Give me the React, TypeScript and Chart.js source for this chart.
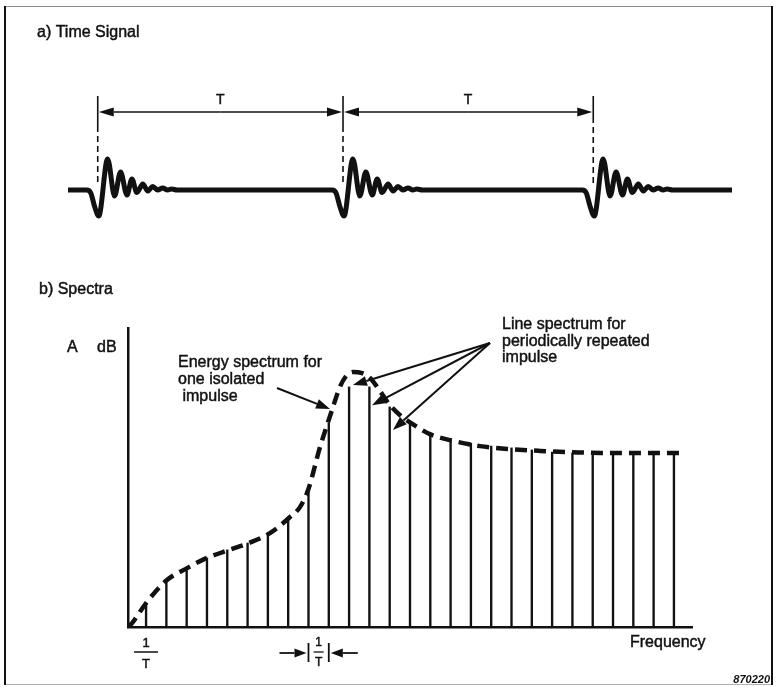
import React, { useEffect, useRef } from "react";
import { Chart, registerables } from "chart.js";

Chart.register(...registerables);

const INK = "#111111";
const FONT = '"Liberation Sans", Arial, Helvetica, sans-serif';

// ---------- (a) Time signal ----------
const impulseTimes = [0.6, 5.55, 10.6];
const periodLabels = ["T", "T"];
const timeStart = 0;
const timeEnd = 13.4;
// one impulse response: time offset from onset, amplitude
const waveOffsets = [-0.22, -0.14, -0.06, 0.02, 0.2, 0.34, 0.46, 0.59, 0.69, 0.79, 0.91, 1.01, 1.11, 1.21, 1.31, 1.41, 1.49, 1.6];
const waveAmps = [0, -3, -17, -26, 31, -6, 18, -5, 11, -2.5, 6, -1, 3.5, 0, 2, 0, 1, 0];

// ---------- (b) Spectra ----------
const harmonicNumbers = [1, 2, 3, 4, 5, 6, 7, 8, 9, 10, 11, 12, 13, 14, 15, 16, 17, 18, 19, 20, 21, 22, 23, 24, 25, 26, 27];
const lineLevels = [8.0, 15.7, 19.7, 23.1, 25.8, 28.1, 31.4, 36.8, 45.8, 68.2, 80.3, 80.3, 73.6, 68.6, 64.2, 62.5, 61.5, 60.5, 59.9, 59.2, 58.5, 58.2, 58.2, 58.2, 58.2, 58.2, 58.2];
const envelopeFreq = [0.11, 0.31, 1, 2.03, 3.02, 4.0, 5.09, 6.07, 7.1, 8.09, 8.58, 8.98, 9.57, 10.16, 10.55, 10.85, 11.19, 11.64, 12.03, 12.42, 13.01, 13.5, 14.05, 14.98, 15.97, 17.45, 18.9, 20.4, 21.9, 23.4, 25.3, 27.4];
const envelopeLevel = [0, 1.3, 8.0, 15.7, 19.7, 23.1, 25.8, 28.1, 31.4, 36.8, 40.1, 45.8, 60.2, 72.6, 80.3, 83.9, 85.3, 84.9, 83.3, 79.9, 74.2, 70.9, 68.2, 64.5, 62.5, 60.5, 59.5, 58.9, 58.5, 58.2, 58.2, 58.2];
const freqMin = 0.11;
const freqMax = 27.89;

function drawArrow(ctx: CanvasRenderingContext2D, x1: number, y1: number, x2: number, y2: number, len = 13, half = 4.5, width = 1.8) {
  const ang = Math.atan2(y2 - y1, x2 - x1);
  const bx = x2 - len * Math.cos(ang);
  const by = y2 - len * Math.sin(ang);
  ctx.lineWidth = width;
  ctx.beginPath();
  ctx.moveTo(x1, y1);
  ctx.lineTo(bx, by);
  ctx.stroke();
  ctx.beginPath();
  ctx.moveTo(x2, y2);
  ctx.lineTo(bx + half * Math.sin(ang), by - half * Math.cos(ang));
  ctx.lineTo(bx - half * Math.sin(ang), by + half * Math.cos(ang));
  ctx.closePath();
  ctx.fill();
}

// print-like slightly heavy text
function txt(ctx: CanvasRenderingContext2D, s: string, x: number, y: number) {
  ctx.fillText(s, x, y);
  const lw = ctx.lineWidth;
  ctx.lineWidth = 0.45;
  ctx.strokeText(s, x, y);
  ctx.lineWidth = lw;
}

const timeAnnotations = {
  id: "timeAnnotations",
  afterDraw(chart: any) {
    const { ctx, scales } = chart;
    const x = scales.x;
    const y = scales.y;
    ctx.save();
    ctx.fillStyle = INK;
    ctx.strokeStyle = INK;
    ctx.textBaseline = "middle";
    ctx.textAlign = "left";
    ctx.font = `16px ${FONT}`;
    txt(ctx, "a) Time Signal", 37, 33);

    const topY = y.getPixelForValue(94);
    const bottomY = y.getPixelForValue(5);
    const solidEnds = [64, 64, 73];
    const pxs = impulseTimes.map((t) => x.getPixelForValue(t));
    pxs.forEach((px, i) => {
      const sEnd = y.getPixelForValue(solidEnds[i]);
      ctx.lineWidth = 1.6;
      ctx.setLineDash([]);
      ctx.beginPath();
      ctx.moveTo(px, topY);
      ctx.lineTo(px, sEnd);
      ctx.stroke();
      ctx.setLineDash([6, 4]);
      ctx.beginPath();
      ctx.moveTo(px, sEnd);
      ctx.lineTo(px, bottomY);
      ctx.stroke();
    });
    ctx.setLineDash([]);
    const arrowY = y.getPixelForValue(78);
    for (let i = 0; i < pxs.length - 1; i++) {
      const a = pxs[i] + 1;
      const b = pxs[i + 1] - 1;
      const mid = (a + b) / 2;
      drawArrow(ctx, mid, arrowY, a, arrowY, 15, 4.5, 1.6);
      drawArrow(ctx, mid, arrowY, b, arrowY, 15, 4.5, 1.6);
      ctx.font = `14px ${FONT}`;
      ctx.textAlign = "center";
      txt(ctx, periodLabels[i], mid, y.getPixelForValue(90));
    }
    ctx.restore();
  },
};

const spectraAnnotations = {
  id: "spectraAnnotations",
  afterDraw(chart: any) {
    const { ctx, scales } = chart;
    const x = scales.x;
    const y = scales.y;
    ctx.save();
    ctx.fillStyle = INK;
    ctx.strokeStyle = INK;
    ctx.textBaseline = "middle";
    ctx.textAlign = "left";
    ctx.font = `16px ${FONT}`;
    txt(ctx, "b) Spectra", 39, 30);
    txt(ctx, "A", 67, 88);
    txt(ctx, "dB", 97, 88);

    txt(ctx, "Energy spectrum for", 178, 103);
    txt(ctx, "one isolated", 178, 120);
    txt(ctx, " impulse", 178, 137);

    txt(ctx, "Line spectrum for", 502, 65);
    txt(ctx, "periodically repeated", 502, 82);
    txt(ctx, "impulse", 502, 98);

    // arrow to the envelope
    drawArrow(ctx, 277, 128, x.getPixelForValue(10.06), y.getPixelForValue(72.9), 14, 5, 2);
    // arrows to the lines
    const tips = [
      [11.19, 80.9],
      [12.13, 74.2],
      [13.16, 65.9],
    ];
    tips.forEach(([tx, ty]) => {
      drawArrow(ctx, 490, 83, x.getPixelForValue(tx), y.getPixelForValue(ty), 14, 5, 2);
    });

    txt(ctx, "Frequency", 630, 383);

    // 1/T under first line
    const f1 = x.getPixelForValue(1);
    ctx.font = `13px ${FONT}`;
    ctx.textAlign = "center";
    txt(ctx, "1", f1, 383);
    txt(ctx, "T", f1, 404);
    ctx.lineWidth = 1.5;
    ctx.beginPath();
    ctx.moveTo(f1 - 12, 392);
    ctx.lineTo(f1 + 12, 392);
    ctx.stroke();

    // spacing marker between lines 9 and 10
    const a = x.getPixelForValue(9);
    const b = x.getPixelForValue(10);
    const m = (a + b) / 2;
    ctx.lineWidth = 1.8;
    ctx.beginPath();
    ctx.moveTo(a, 383);
    ctx.lineTo(a, 402);
    ctx.moveTo(b, 383);
    ctx.lineTo(b, 402);
    ctx.stroke();
    ctx.font = `12px ${FONT}`;
    txt(ctx, "1", m, 383);
    txt(ctx, "T", m, 403);
    ctx.lineWidth = 1.3;
    ctx.beginPath();
    ctx.moveTo(m - 5, 392);
    ctx.lineTo(m + 5, 392);
    ctx.stroke();
    drawArrow(ctx, a - 29, 393, a - 2, 393, 12, 4.5, 1.8);
    drawArrow(ctx, b + 29, 393, b + 2, 393, 12, 4.5, 1.8);

    ctx.font = `italic bold 11px ${FONT}`;
    ctx.textAlign = "right";
    ctx.fillText("870220", 770, 420);
    ctx.restore();
  },
};

export default function App() {
  const topRef = useRef<HTMLCanvasElement>(null);
  const botRef = useRef<HTMLCanvasElement>(null);

  useEffect(() => {
    const signal: { x: number; y: number }[] = [{ x: timeStart, y: 0 }];
    impulseTimes.forEach((t) => {
      waveOffsets.forEach((o, i) => signal.push({ x: t + o, y: waveAmps[i] }));
    });
    signal.push({ x: timeEnd, y: 0 });

    const c1 = new Chart(topRef.current as HTMLCanvasElement, {
      type: "line",
      data: {
        datasets: [
          {
            data: signal,
            borderColor: INK,
            borderWidth: 5,
            pointRadius: 0,
            cubicInterpolationMode: "monotone",
            borderCapStyle: "butt",
            borderJoinStyle: "round",
            fill: false,
          } as any,
        ],
      },
      options: {
        animation: false,
        responsive: false,
        events: [],
        layout: { padding: { left: 68, right: 45, top: 60, bottom: 10 } },
        plugins: { legend: { display: false }, tooltip: { enabled: false }, title: { display: false } },
        scales: {
          x: { type: "linear", display: false, min: timeStart, max: timeEnd },
          y: { type: "linear", display: false, min: -60, max: 130 },
        },
      },
      plugins: [timeAnnotations],
    });

    const lines = harmonicNumbers.map((h, i) => ({ x: h, y: lineLevels[i] }));
    const envelope = envelopeFreq.map((f, i) => ({ x: f, y: envelopeLevel[i] }));

    const c2 = new Chart(botRef.current as HTMLCanvasElement, {
      type: "bar",
      data: {
        datasets: [
          {
            type: "line",
            data: envelope,
            borderColor: INK,
            borderWidth: 4.5,
            borderDash: [12, 7],
            pointRadius: 0,
            cubicInterpolationMode: "monotone",
            fill: false,
            order: 0,
          } as any,
          {
            type: "bar",
            data: lines,
            backgroundColor: INK,
            barThickness: 1.7,
            order: 1,
          } as any,
        ],
      },
      options: {
        animation: false,
        responsive: false,
        events: [],
        layout: { padding: { left: 128, right: 85, top: 68, bottom: 60 } },
        plugins: { legend: { display: false }, tooltip: { enabled: false }, title: { display: false } },
        scales: {
          x: {
            type: "linear",
            min: freqMin,
            max: freqMax,
            offset: false,
            grid: { display: false, drawTicks: false },
            ticks: { display: false },
            border: { display: true, color: INK, width: 2.5 },
          },
          y: {
            type: "linear",
            min: 0,
            max: 100,
            grid: { display: false, drawTicks: false },
            ticks: { display: false },
            border: { display: true, color: INK, width: 2.5 },
          },
        },
      } as any,
      plugins: [spectraAnnotations],
    });

    return () => {
      c1.destroy();
      c2.destroy();
    };
  }, []);

  return (
    <div style={{ position: "absolute", left: 0, top: 0, width: 777, height: 687, background: "#fff", overflow: "hidden" }}>
      <canvas ref={topRef} width={777} height={260} style={{ position: "absolute", left: 0, top: 0, display: "block" }} />
      <canvas ref={botRef} width={777} height={427} style={{ position: "absolute", left: 0, top: 260, display: "block" }} />
      <div style={{ position: "absolute", left: 4, top: 6, width: 768, height: 1, background: "#8a8a8a" }} />
      <div style={{ position: "absolute", left: 4, top: 684, width: 768, height: 1, background: "#b0b0b0" }} />
      <div style={{ position: "absolute", left: 4, top: 6, width: 2, height: 679, background: INK }} />
      <div style={{ position: "absolute", left: 771, top: 6, width: 2, height: 679, background: INK }} />
    </div>
  );
}
